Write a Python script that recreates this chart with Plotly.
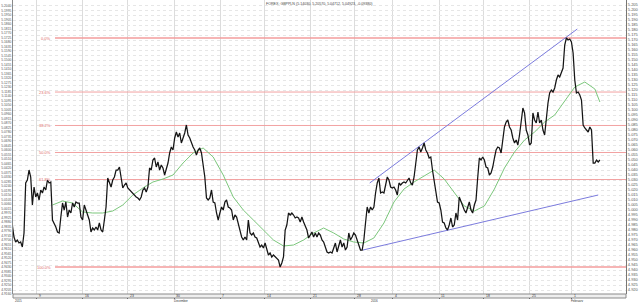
import plotly.graph_objects as go

# ---------------- data ----------------
price = [
    4.985, 4.973, 4.968, 4.970, 4.967, 4.968, 4.963, 4.977, 5.027, 5.030,
    5.040, 5.033, 5.005, 5.023, 5.013, 5.017, 5.010, 5.020, 5.017, 5.023,
    5.020, 5.030, 5.027, 5.028, 4.990, 4.987, 4.983, 4.978, 4.977, 4.993,
    5.007, 5.000, 5.008, 4.993, 5.000, 4.997, 5.007, 5.003, 5.008, 5.007,
    5.007, 4.993, 4.990, 5.005, 5.000, 4.993, 4.990, 4.978, 4.982, 4.980,
    4.983, 4.980, 4.987, 4.980, 4.978, 4.990, 5.003, 5.032, 5.027, 5.023,
    5.030, 5.033, 5.040, 5.040,
    5.043, 5.033, 5.022, 5.025, 5.027, 5.022, 5.020, 5.018, 5.017, 5.015,
    5.013, 5.012, 5.010, 5.013, 5.020, 5.022, 5.018, 5.023, 5.042, 5.040,
    5.050, 5.052, 5.043, 5.048, 5.040, 5.045, 5.042, 5.035, 5.040, 5.047,
    5.057, 5.063, 5.060, 5.072, 5.078, 5.073, 5.077, 5.067, 5.072, 5.077,
    5.085, 5.075, 5.072, 5.067, 5.063, 5.060, 5.055, 5.060, 5.062, 5.057,
    5.047, 5.033, 5.012, 5.010, 5.012, 5.020, 5.008, 5.007, 4.997, 4.990,
    4.997, 5.003, 5.000, 5.008, 5.010, 5.003, 5.002, 5.000, 4.990, 4.995,
    4.993, 4.987, 4.980, 4.973, 4.970, 4.973, 4.970, 4.990, 4.977, 4.975,
    4.977, 4.973, 4.972, 4.967, 4.963, 4.965, 4.962, 4.967, 4.960, 4.955,
    4.957, 4.953, 4.955, 4.953, 4.952, 4.950, 4.943, 4.947, 4.953, 4.980,
    4.985, 4.997, 4.995, 4.997, 4.995, 4.992, 4.993, 4.992, 4.988, 4.993,
    4.988, 4.983, 4.980, 4.972, 4.975, 4.978, 4.973, 4.977, 4.973, 4.977,
    4.975, 4.970, 4.968, 4.963, 4.958, 4.957, 4.958, 4.957, 4.963, 4.967,
    4.958, 4.963, 4.970, 4.963, 4.967, 4.960, 4.963, 4.977, 4.970, 4.973,
    4.977, 4.975, 4.970, 4.963, 4.960, 4.960, 4.970, 4.987, 5.003, 4.997,
    5.003, 5.000, 5.003, 5.017, 5.027, 5.032,
    5.017, 5.018, 5.017, 5.025, 5.033, 5.030, 5.023, 5.022, 5.023, 5.020,
    5.015, 5.027, 5.025, 5.027, 5.028, 5.027, 5.030, 5.032, 5.027, 5.025,
    5.033, 5.047, 5.060, 5.063, 5.058, 5.062, 5.067, 5.060, 5.057, 5.052,
    5.053, 5.040, 5.030, 5.020, 5.008, 5.007, 5.000, 4.988, 4.987, 4.982,
    4.980, 4.985, 4.992, 4.983, 4.985, 4.997, 4.990, 5.013, 5.008, 5.003,
    5.000, 4.997, 5.002, 5.008, 5.000, 4.997, 5.005, 5.010, 5.032, 5.052,
    5.050, 5.053, 5.050, 5.043, 5.042, 5.035, 5.037, 5.043, 5.052, 5.060,
    5.063, 5.062, 5.057, 5.072, 5.083, 5.088, 5.090, 5.083, 5.080, 5.072,
    5.067, 5.070, 5.065, 5.075, 5.087, 5.102, 5.097, 5.080, 5.075, 5.065,
    5.067, 5.097, 5.090, 5.087, 5.098, 5.087, 5.090, 5.080, 5.075, 5.093,
    5.107, 5.117, 5.120, 5.118, 5.122, 5.130, 5.135, 5.133, 5.137, 5.142,
    5.165, 5.172, 5.170, 5.171, 5.168, 5.157, 5.130, 5.117, 5.118, 5.115,
    5.110, 5.085, 5.082, 5.080, 5.078, 5.083, 5.080, 5.047, 5.047, 5.050,
    5.048, 5.050,
]

ma_values = [
    5.005, 5.009, 5.007, 4.998, 4.997, 4.997, 4.999, 5.005, 5.015, 5.022,
    5.028, 5.031, 5.035, 5.047, 5.057, 5.062, 5.053, 5.035, 5.013, 5.000,
    4.990, 4.980, 4.970, 4.964, 4.965, 4.970, 4.977, 4.982, 4.977, 4.971,
    4.968, 4.967, 4.972, 4.987, 5.008, 5.021, 5.028, 5.034, 5.040, 5.031,
    5.018, 5.004, 4.999, 5.004, 5.021, 5.042, 5.058, 5.070, 5.078, 5.088,
    5.095, 5.109, 5.123, 5.128, 5.121, 5.108,
]
ma_index = list(range(24, 349, 6)) + [351]

trend_upper_x = [213.5, 337.5]
trend_upper_y = [5.027, 5.181]
trend_lower_x = [209.5, 350.0]
trend_lower_y = [4.960, 5.015]

fib_ratios = [0.0, 0.236, 0.382, 0.5, 0.618, 1.0]
fib_labels = ["0.0%", "23.6%", "38.2%", "50.0%", "61.8%", "100.0%"]

week_tick_labels = ["9", "16", "23", "30", "7", "14", "21", "28", "4", "11", "18", "25", "1"]
week_tick_pos = [14.75, 42.2, 69.1, 96.6, 124.1, 150.9, 178.4, 204.7, 227.4, 254.9, 281.7, 309.2, 334.3]
month_labels = ["2015", "December", "2016", "February"]
month_pos = [1.0, 96.0, 213.6, 333.2]

title_text = "FOREX: GBPPLN (5.14030, 5.20570, 5.04712, 5.04923, -0.09380)"

# ---------------- figure ----------------
FONT = "Liberation Sans, Arial, sans-serif"
Y_RANGE = [4.916, 5.210]
X_RANGE = [0.42, 366.6]
FIB_X0 = 25.5  # where the retracement lines start (after their labels)

x_idx = list(range(len(price)))
fig = go.Figure()

# invisible helper trace to activate the left-hand (overlay) axis
fig.add_trace(go.Scatter(x=x_idx, y=price, yaxis="y2", mode="lines",
                         line=dict(color="rgba(0,0,0,0)", width=0),
                         hoverinfo="skip", showlegend=False))

hi, lo = max(price), min(price)
annotations = []
for r, lab in zip(fib_ratios, fib_labels):
    lvl = hi - r * (hi - lo)
    solid = r in (0.0, 1.0)
    fig.add_trace(go.Scatter(x=[FIB_X0, X_RANGE[1]], y=[lvl, lvl], mode="lines",
                             line=dict(color="#f39c9c" if solid else "#f2a2a2",
                                       width=1.4 if solid else 1),
                             hoverinfo="skip", showlegend=False))
    annotations.append(dict(xref="paper", yref="y", x=0.065, y=lvl, text=lab,
                            showarrow=False, xanchor="right", yanchor="middle",
                            font=dict(size=4, color="#e06a6a", family=FONT)))

fig.add_trace(go.Scatter(x=ma_index, y=ma_values, mode="lines",
                         line=dict(color="#7cc77c", width=1), showlegend=False))
fig.add_trace(go.Scatter(x=trend_upper_x, y=trend_upper_y, mode="lines",
                         line=dict(color="#7b7bdd", width=1), showlegend=False))
fig.add_trace(go.Scatter(x=trend_lower_x, y=trend_lower_y, mode="lines",
                         line=dict(color="#7b7bdd", width=1), showlegend=False))
fig.add_trace(go.Scatter(x=x_idx, y=price, mode="lines",
                         line=dict(color="#151515", width=1.25), showlegend=False))

# bottom date strip
shapes = [dict(type="rect", xref="paper", yref="paper", x0=0, x1=1,
               y0=-4.0 / 294, y1=0, fillcolor="#eeeeee",
               line=dict(color="#8a8a8a", width=1))]
for p, lab in zip(week_tick_pos, week_tick_labels):
    annotations.append(dict(xref="x", yref="paper", x=p, y=-2.0 / 294, text=lab,
                            showarrow=False, xanchor="left", yanchor="middle", xshift=1,
                            borderpad=0,
                            font=dict(size=3.4, color="#333", family=FONT)))
for p, lab in zip(month_pos, month_labels):
    annotations.append(dict(xref="x", yref="paper", x=p, y=-4.3 / 294, text=lab,
                            showarrow=False, xanchor="left", yanchor="top",
                            borderpad=0,
                            font=dict(size=3.0, color="#333", family=FONT)))

annotations.append(dict(xref="paper", yref="paper", x=(320 - 13) / 613, y=1,
                        text=title_text, showarrow=False, xanchor="center",
                        yanchor="top", yshift=-1, borderpad=0,
                        font=dict(size=3.6, color="#444", family=FONT)))

fig.update_layout(
    width=640, height=302,
    margin=dict(l=13, r=14, t=0, b=8, pad=0),
    paper_bgcolor="white", plot_bgcolor="white",
    showlegend=False,
    font=dict(family=FONT, size=4, color="#555"),
    shapes=shapes, annotations=annotations,
    xaxis=dict(range=X_RANGE, tickvals=week_tick_pos, showticklabels=False,
               showgrid=True, gridcolor="#dcdcdc", gridwidth=1,
               ticks="outside", ticklen=4, tickcolor="#444", tickwidth=1,
               zeroline=False, showline=False, fixedrange=True),
    # main price axis: labels on the right, carries the dotted grid
    yaxis=dict(range=Y_RANGE, side="right", dtick=0.005,
               tickformat=".3f", showgrid=True, gridcolor="#e6e6e6",
               griddash="dot", gridwidth=1, zeroline=False,
               showline=True, linecolor="#777", linewidth=1, ticks="",
               tickfont=dict(size=4, color="#555", family=FONT)),
    # finer scale on the left
    yaxis2=dict(range=Y_RANGE, side="left", overlaying="y", dtick=0.0045,
                tick0=4.916, tickformat=".4f", showgrid=False, zeroline=False,
                showline=True, linecolor="#8a8a8a", linewidth=1, ticks="",
                tickfont=dict(size=3.3, color="#555", family=FONT)),
)

fig.write_html("out.html")
